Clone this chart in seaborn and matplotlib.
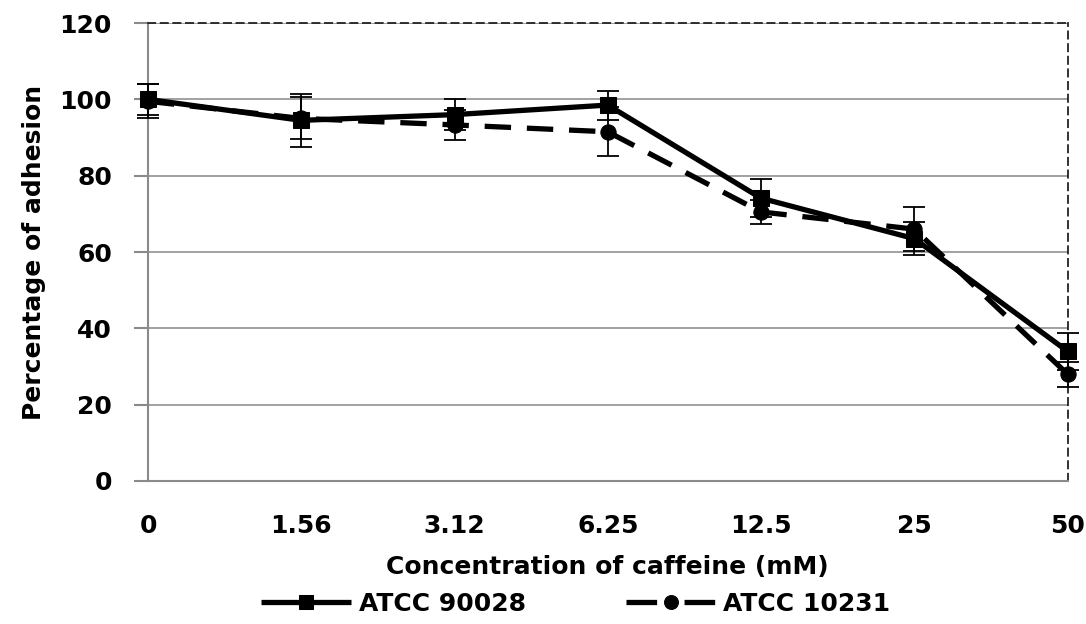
import numpy as np
import pandas as pd
import matplotlib
matplotlib.use("Agg")
import matplotlib.pyplot as plt
import seaborn as sns

concentrations = ["0", "1.56", "3.12", "6.25", "12.5", "25", "50"]
atcc_90028 = [100.0, 94.5, 96.0, 98.5, 74.1, 63.5, 34.0]
atcc_90028_err = [4.0, 7.0, 4.0, 3.8, 5.0, 4.3, 4.8]
atcc_10231 = [99.5, 95.0, 93.3, 91.5, 70.5, 66.0, 28.0]
atcc_10231_err = [4.5, 5.5, 4.0, 6.4, 3.2, 5.7, 3.3]
series_names = ["ATCC 90028", "ATCC 10231"]

sns.set_style("white")
plt.rcParams["font.family"] = ["DejaVu Sans"]
plt.rcParams["font.weight"] = "bold"
plt.rcParams["font.size"] = 18
plt.rcParams["text.color"] = "black"
plt.rcParams["axes.labelcolor"] = "black"
plt.rcParams["xtick.color"] = "black"
plt.rcParams["ytick.color"] = "black"

pos = np.arange(len(concentrations))
df = pd.DataFrame({
    "pos": np.concatenate([pos, pos]),
    "value": atcc_90028 + atcc_10231,
    "strain": [series_names[0]] * len(pos) + [series_names[1]] * len(pos),
})

fig = plt.figure(figsize=(10.86, 6.24), dpi=100)
ax = fig.add_axes([0.1363, 0.2292, 0.8467, 0.7339])

sns.lineplot(data=df, x="pos", y="value", hue="strain", style="strain",
             palette=["black", "black"], markers=["s", "o"],
             dashes=[(1, 0), (5.0, 3.0)], markersize=11, linewidth=3.8,
             markeredgecolor="black", ax=ax, legend=True, zorder=3,
             clip_on=False)

for vals, errs in [(atcc_90028, atcc_90028_err), (atcc_10231, atcc_10231_err)]:
    eb = ax.errorbar(pos, vals, yerr=errs, fmt="none", ecolor="black",
                     elinewidth=1.3, capsize=8, capthick=1.3, zorder=4)
    for art in eb.lines[1] + eb.lines[2]:
        art.set_clip_on(False)

ax.set_xlim(0, len(concentrations) - 1)
ax.set_ylim(0, 120)
ax.set_yticks(np.arange(0, 121, 20))
ax.set_xticks(pos)
ax.set_xticklabels(concentrations)
ax.yaxis.grid(True, color="#9a9a9a", linewidth=1.3)
ax.xaxis.grid(False)
ax.set_axisbelow(True)

for side in ["left", "bottom"]:
    ax.spines[side].set_color("#8a8a8a")
    ax.spines[side].set_linewidth(1.5)
for side in ["top", "right"]:
    ax.spines[side].set_color("#222222")
    ax.spines[side].set_linewidth(1.3)
    ax.spines[side].set_linestyle((0, (4, 3)))

ax.tick_params(axis="y", direction="out", length=10, width=1.5, color="#8a8a8a",
               labelcolor="black", pad=16, left=True)
ax.tick_params(axis="x", length=0, pad=24, labelcolor="black")
ax.set_ylabel("Percentage of adhesion", fontweight="bold", labelpad=10)
ax.set_xlabel("Concentration of caffeine (mM)", fontweight="bold", labelpad=12)

handles, labels = ax.get_legend_handles_labels()
for h in handles:
    h.set_markersize(10)
handles[1].set_linestyle((0, (5.8, 5.2)))
ax.legend_.remove()
fig.legend(handles, labels, loc="center", bbox_to_anchor=(0.53, 0.032),
           ncol=2, frameon=False, handlelength=3.6,
           columnspacing=4.0, handletextpad=0.3)

fig.savefig("out.png", dpi=100)
